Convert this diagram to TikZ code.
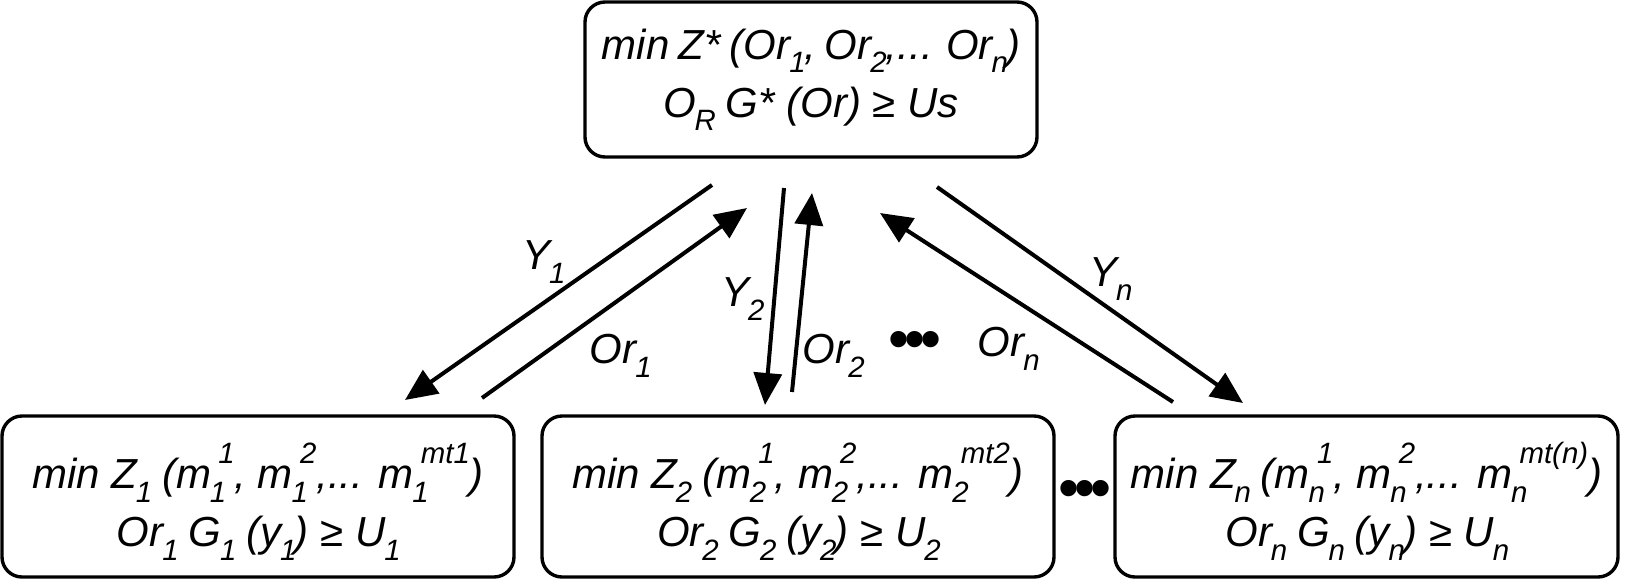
\documentclass[tikz,border=0pt]{standalone}
\usepackage{fontspec}
\setmainfont{Liberation Sans}
\usetikzlibrary{arrows.meta}
\newcommand\sbs[1]{\kern-0.03em\relax\raisebox{-0.32em}{\fontsize{14.7}{15}\selectfont #1}\kern-0.04em\relax}
\newcommand\sps[1]{\raisebox{0.6em}{\fontsize{14.7}{15}\selectfont #1}}
\newcommand\sbsp[2]{\kern-0.03em\relax\rlap{\raisebox{-0.32em}{\fontsize{14.7}{15}\selectfont #1}}\kern0.2em\relax\sps{#2}}
\tikzset{
  box/.style={draw, line width=1.7pt, rounded corners=10pt, align=center,
    font=\fontsize{21}{26}\selectfont\itshape, inner sep=0pt},
  arr/.style={line width=2pt, -{Triangle[length=16pt,width=14pt]}},
  lbl/.style={font=\fontsize{21}{24}\selectfont\itshape, inner sep=0pt},
  dotsn/.style={font=\fontsize{30}{30}\selectfont, inner sep=0pt}
}
\begin{document}
\begin{tikzpicture}[x=0.5pt,y=-0.5pt]
\useasboundingbox (0,0) rectangle (1628,579);
\node[box, minimum width=226pt, minimum height=77.5pt] (top) at (811,79.5)
  {\spaceskip=0.22em\relax min Z* (Or\sbs{1}, Or\sbs{2},\kern0.03em... Or\sbs{n})\\[3pt] O\sbs{R} G* (Or) ≥ Us};
\node[box, minimum width=256pt, minimum height=80.5pt] (b1) at (258,496.5)
  {\rule{0pt}{28pt}min Z\sbs{1} (m\sbsp{1}{1}, m\sbsp{1}{2},... m\sbsp{1}{mt1})\\[3pt] Or\sbs{1} G\sbs{1} (y\sbs{1}) ≥ U\sbs{1}};
\node[box, minimum width=256pt, minimum height=80.5pt] (b2) at (798,496.5)
  {\rule{0pt}{28pt}min Z\sbs{2} (m\sbsp{2}{1}, m\sbsp{2}{2},... m\sbsp{2}{mt2})\\[3pt] Or\sbs{2} G\sbs{2} (y\sbs{2}) ≥ U\sbs{2}};
\node[box, minimum width=251.5pt, minimum height=80.5pt] (bn) at (1366.5,496.5)
  {\rule{0pt}{28pt}min Z\sbs{n} (m\sbsp{n}{1}, m\sbsp{n}{2},... m\sbsp{n}{mt(n)})\\[3pt] Or\sbs{n} G\sbs{n} (y\sbs{n}) ≥ U\sbs{n}};
\node[dotsn] (dotsb) at (1085,494) {•\kern-2.5pt•\kern-2.5pt•};
\node[dotsn] (dotsm) at (915,345) {•\kern-2.5pt•\kern-2.5pt•};
% arrow end points
\coordinate (y1s) at (712,185);   \coordinate (y1e) at (405,400);
\coordinate (o1s) at (482,398);   \coordinate (o1e) at (747,208);
\coordinate (y2s) at (784,188);   \coordinate (y2e) at (765,405);
\coordinate (o2s) at (792,392);   \coordinate (o2e) at (812,193);
\coordinate (yns) at (937,187);   \coordinate (yne) at (1243,403);
\coordinate (ons) at (1173,402);  \coordinate (one) at (880,213);
\draw[arr] (y1s) -- (y1e);
\draw[arr] (o1s) -- (o1e);
\draw[arr] (y2s) -- (y2e);
\draw[arr] (o2s) -- (o2e);
\draw[arr] (yns) -- (yne);
\draw[arr] (ons) -- (one);
\node[lbl] (ly1) at (543,262) {Y\sbs{1}};
\node[lbl] (lo1) at (620,356) {Or\sbs{1}};
\node[lbl] (ly2) at (742,299) {Y\sbs{2}};
\node[lbl] (lo2) at (833,356) {Or\sbs{2}};
\node[lbl] (lyn) at (1110,279) {Y\sbs{n}};
\node[lbl] (lon) at (1008,349) {Or\sbs{n}};
\end{tikzpicture}
\end{document}
